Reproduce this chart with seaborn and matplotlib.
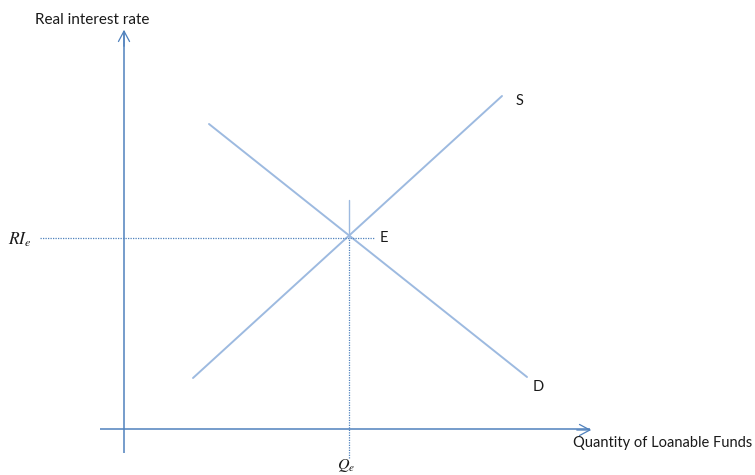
import matplotlib
matplotlib.use("Agg")
import matplotlib.pyplot as plt
import seaborn as sns
import pandas as pd

# Loanable funds market: quantity on x, real interest rate on y
supply_q = [69, 378]
supply_r = [51, 333]
demand_q = [85, 403]
demand_r = [305, 52]
eq_q = 225
eq_r = 191

curve_labels = ["S", "D", "E"]
x_title = "Quantity of Loanable Funds"
y_title = "Real interest rate"
rate_label = r"$RI_e$"
qty_label = r"$Q_e$"

sns.set_style("white")
plt.rcParams["font.family"] = ["Lato", "DejaVu Sans"]
plt.rcParams["mathtext.fontset"] = "stix"

fig = plt.figure(figsize=(7.55, 4.75), dpi=100)
ax = fig.add_axes([0, 0, 1, 1])
ax.set_xlim(-124, 631)
ax.set_ylim(-46, 429)
ax.axis("off")

axis_col = "#4f81bd"
curve_col = "#9dbae0"

curves = pd.DataFrame({
    "q": supply_q + demand_q,
    "r": supply_r + demand_r,
    "curve": ["S", "S", "D", "D"],
})
sns.lineplot(data=curves, x="q", y="r", hue="curve", units="curve",
             estimator=None, palette={"S": curve_col, "D": curve_col},
             linewidth=1.4, legend=False, ax=ax, sort=False)

# axes with open arrowheads
ax.plot([0, 0], [-24, 398], color=axis_col, lw=1.1, solid_capstyle="butt")
ax.plot([-24, 466], [0, 0], color=axis_col, lw=1.1, solid_capstyle="butt")
ax.annotate("", xy=(0, 402), xytext=(0, 380),
            arrowprops=dict(arrowstyle="->,head_length=0.75,head_width=0.4",
                            color=axis_col, lw=0.9))
ax.annotate("", xy=(470, -1), xytext=(450, -1),
            arrowprops=dict(arrowstyle="->,head_length=0.75,head_width=0.4",
                            color=axis_col, lw=0.9))

# equilibrium guides
ax.plot([-84, 251], [eq_r, eq_r], color=axis_col, lw=0.9, ls=(0, (1, 1)))
ax.plot([eq_q, eq_q], [eq_r, 229], color=curve_col, lw=1.0)
ax.plot([eq_q, eq_q], [-29, eq_r], color=axis_col, lw=0.9, ls=(0, (1, 1)))

txt_col = "#1a1a1a"
ax.text(396, 328, curve_labels[0], fontsize=10.5, color=txt_col, ha="center", va="center")
ax.text(414, 42, curve_labels[1], fontsize=10.5, color=txt_col, ha="center", va="center")
ax.text(260, 191, curve_labels[2], fontsize=10.5, color=txt_col, ha="center", va="center")

ax.text(-89, 409, y_title, fontsize=11, color=txt_col, ha="left", va="center")
ax.text(449, -14, x_title, fontsize=10.5, color=txt_col, ha="left", va="center")
ax.text(-116, 189, rate_label, fontsize=12.5, color=txt_col, ha="left", va="center")
ax.text(222, -36, qty_label, fontsize=11.5, color=txt_col, ha="center", va="center")

fig.savefig("out.png", dpi=100)
